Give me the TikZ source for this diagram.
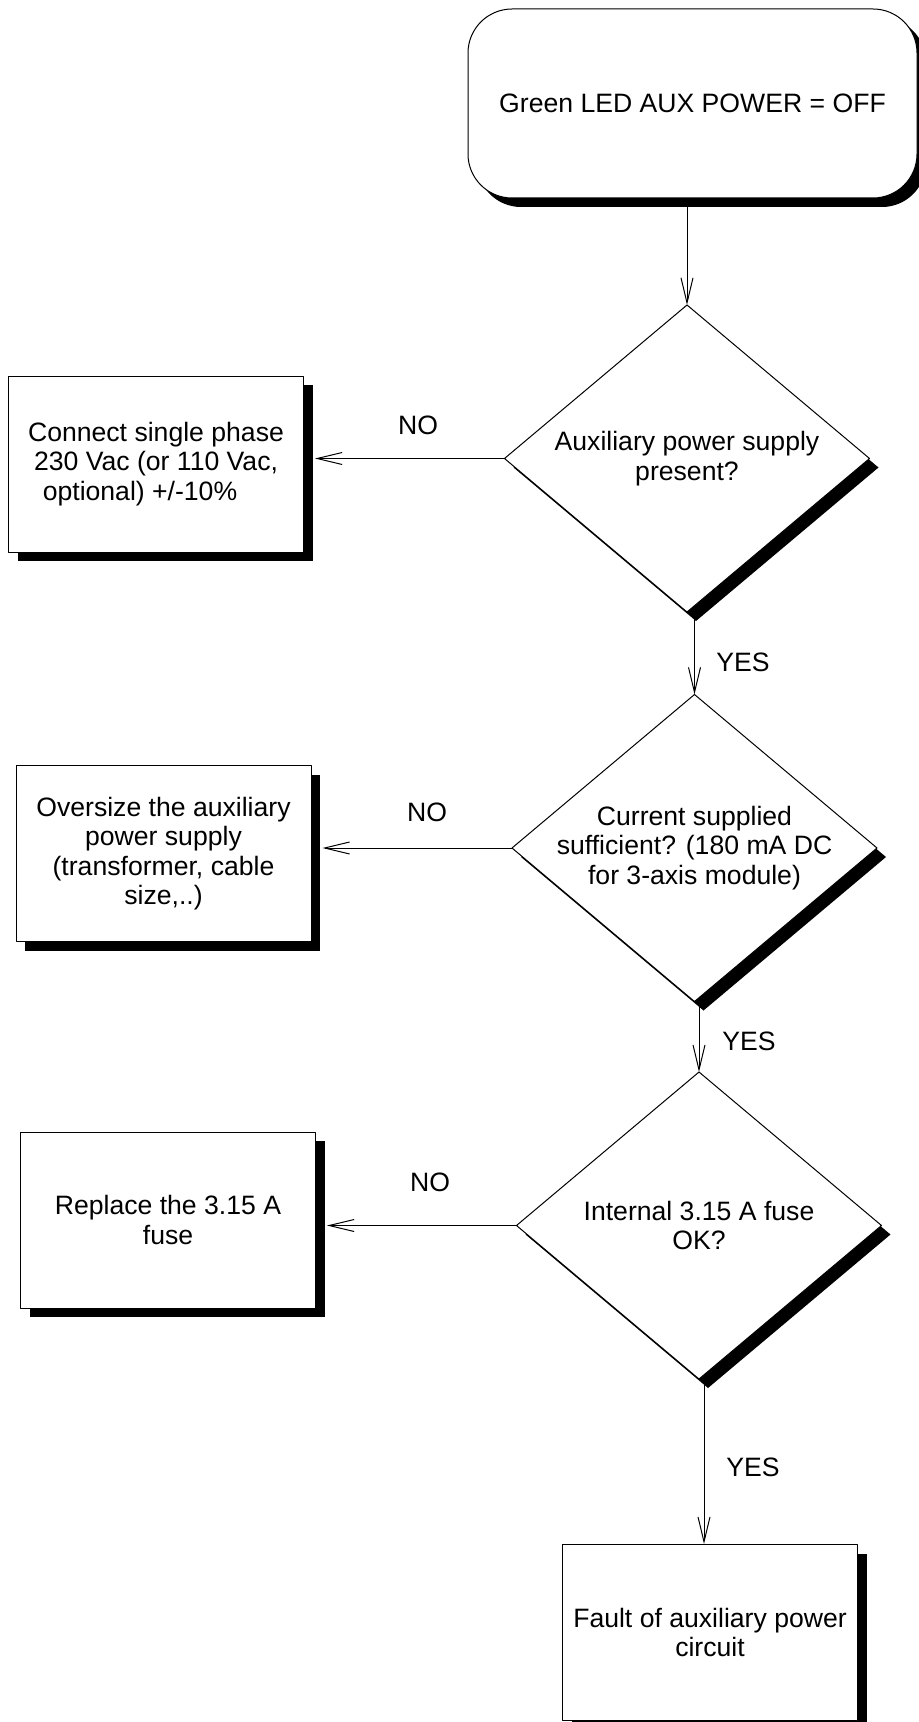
\documentclass[tikz,border=0pt]{standalone}
\usepackage{fontspec}
\setmainfont{Liberation Sans}
\usetikzlibrary{shapes.geometric,shadows,arrows.meta}

\begin{document}
\begin{tikzpicture}[x=0.5pt, y=-0.5pt, font=\fontsize{13.3}{14.75}\selectfont, line join=round,
	>={Straight Barb[length=12.5pt,width=6pt]},
	boxshadow/.style={drop shadow={shadow xshift=4.5pt, shadow yshift=-4.5pt, opacity=1, fill=black}},
	startbox/.style={draw, fill=white, line width=0.5pt, rounded corners=22pt, minimum width=224.5pt, minimum height=94.5pt, boxshadow},
	actbox/.style={draw, fill=white, line width=0.5pt, align=center, inner sep=0pt, minimum width=147.5pt, minimum height=88pt, boxshadow},
	query/.style={draw, fill=white, line width=0.5pt, diamond, inner sep=0pt, outer sep=0pt, minimum width=182.5pt, minimum height=153.5pt, boxshadow},
	ans/.style={inner sep=0pt},
	flow/.style={->, line width=0.5pt}]
	\useasboundingbox (0,0) rectangle (918,1722);

	\node[startbox] (led) at (692.5,103.5) {Green LED AUX POWER = OFF};

	\node[query, label={[align=center]center:{Auxiliary power supply\\present?}}] (supply) at (687,458.5) {};
	\node[query, label={[align=center]center:{Current supplied\\sufficient? (180 mA DC\\for 3-axis module)}}] (current) at (694.5,848) {};
	\node[query, label={[align=center]center:{Internal 3.15 A fuse\\OK?}}] (fuse) at (699,1225.5) {};

	\node[actbox] (mains) at (156,464) {Connect single phase\\230 Vac (or 110 Vac,\\optional) +/-10\%\hspace*{16pt}};
	\node[actbox] (oversize) at (163.5,853.5) {Oversize the auxiliary\\power supply\\(transformer, cable\\size,..)};
	\node[actbox] (replace) at (168,1220) {Replace the 3.15 A\\fuse};
	\node[actbox] (fault) at (710,1632.5) {Fault of auxiliary power\\circuit};

	\draw[flow] (led.south -| supply.north) -- (supply.north);
	\draw[flow] (supply.south -| current.north) -- (current.north);
	\draw[flow] (current.south -| fuse.north) -- (fuse.north);
	\draw[flow] ([xshift=-3pt]fuse.south -| fault.north) -- ([xshift=-3pt]fault.north);

	\draw[flow, shorten >=5.5pt] (supply.west) -- (mains.east |- supply.west);
	\draw[flow, shorten >=5.5pt] (current.west) -- (oversize.east |- current.west);
	\draw[flow, shorten >=5.5pt] (fuse.west) -- (replace.east |- fuse.west);

	\node[ans] (no1) at (418,425) {NO};
	\node[ans] (no2) at (427,812) {NO};
	\node[ans] (no3) at (430,1182) {NO};
	\node[ans] (yes1) at (743,662) {YES};
	\node[ans] (yes2) at (749,1041) {YES};
	\node[ans] (yes3) at (753,1467) {YES};
\end{tikzpicture}
\end{document}
